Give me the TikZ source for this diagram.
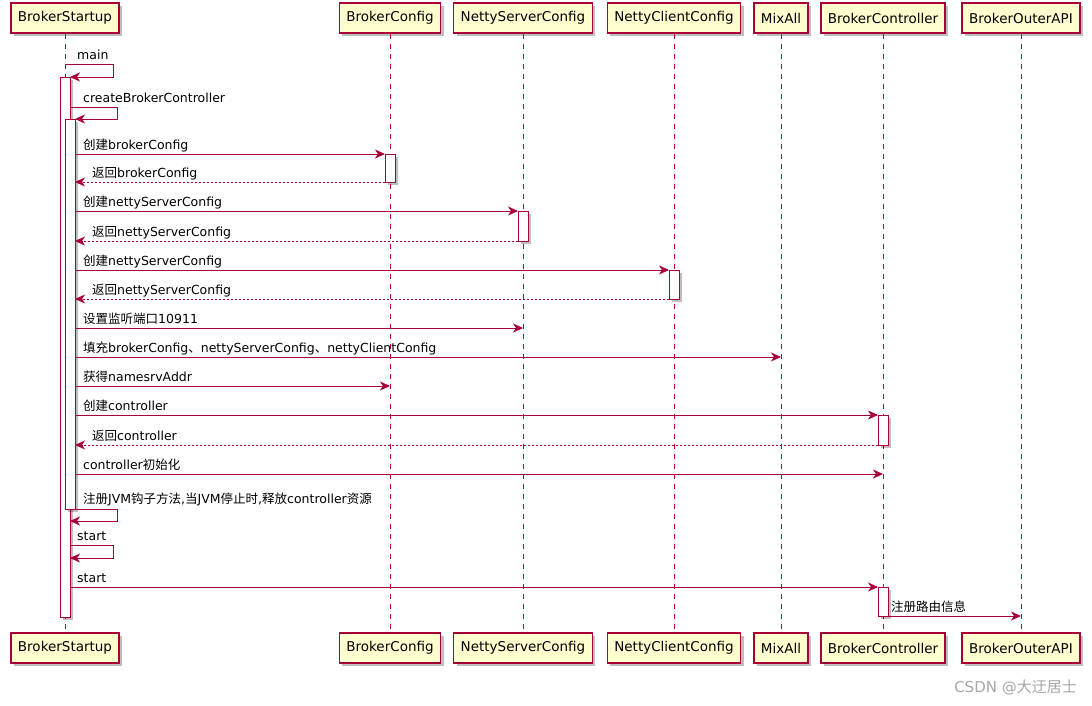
\documentclass[tikz,border=0pt]{standalone}
\usepackage{fontspec}
\setmainfont{DejaVu Sans}
\newfontfamily\cjk{Noto Sans CJK SC}
\usetikzlibrary{arrows.meta}
\usetikzlibrary{shadows}
\definecolor{umlred}{HTML}{A80036}
\definecolor{umlfill}{HTML}{FEFECE}
\tikzset{>={Stealth[length=10pt,width=9pt,inset=3pt]}}
\tikzset{
  umlshadow/.style={drop shadow={shadow xshift=3pt,shadow yshift=-3pt,fill=black,opacity=0.25}},
  part/.style={draw=umlred,line width=1.4pt,fill=umlfill,minimum height=30pt,
               inner xsep=7pt,inner ysep=0pt,font=\fontsize{13.5}{16}\selectfont,umlshadow},
  actbar/.style={draw=umlred,line width=1pt,fill=white,minimum width=10pt,
                 inner sep=0pt,outer sep=0pt,anchor=north,umlshadow},
  lifeline/.style={umlred,line width=1pt,dash pattern=on 5pt off 5pt},
  msg/.style={->,umlred,line width=1pt},
  ret/.style={msg,dash pattern=on 2pt off 2pt},
  lbl/.style={anchor=base west,inner sep=0pt,text=black}
}
\newcommand\zh[1]{{\cjk #1}}

\begin{document}
\begin{tikzpicture}[x=1pt,y=-1pt,font=\fontsize{12.5}{15}\selectfont]
  \useasboundingbox (0,0) rectangle (1092,705);

  % PARTICIPANTS
  \foreach \x/\nm/\txt in {65/bs/BrokerStartup, 390/bc/BrokerConfig,
      523/nsc/NettyServerConfig, 674/ncc/NettyClientConfig, 781/ma/MixAll,
      883/bctl/BrokerController, 1021/boa/BrokerOuterAPI}{
    \node[part] (\nm) at (\x,18) {\txt};
    \node[part] (\nm-bot) at (\x,648) {\txt};
    \draw[lifeline] (\nm) -- (\nm-bot);
  }

  % ACTIVATIONS
  \node[actbar,minimum height=540pt] (a1) at (bs |- 0,77) {};
  \node[actbar,minimum height=390pt] (a2) at (a1.east |- 0,119) {};
  \node[actbar,minimum height=28pt] (c1) at (bc |- 0,154) {};
  \node[actbar,minimum height=30pt] (c2) at (nsc |- 0,211) {};
  \node[actbar,minimum height=29pt] (c3) at (ncc |- 0,270) {};
  \node[actbar,minimum height=30pt] (c4) at (bctl |- 0,415) {};
  \node[actbar,minimum height=29pt] (c5) at (bctl |- 0,587) {};

  % MESSAGES
  \draw[msg] (bs |- 0,64) -- ++(48,0) -- ++(0,13) -- (a1.north east);
  \node[lbl] (m1) at (77,59.5) {main};
  \draw[msg] (a1.east |- 0,107) -- ++(47,0) -- ++(0,12) -- (a2.north east);
  \node[lbl] (m2) at (83,102) {createBrokerController};

  \draw[msg] (a2.east |- c1.north) -- (c1.north west);
  \node[lbl] (m3) at (83,149.5) {\zh{创建}brokerConfig};
  \draw[ret] (c1.south west) -- (a2.east |- c1.south);
  \node[lbl] (m4) at (92,177.5) {\zh{返回}brokerConfig};

  \draw[msg] (a2.east |- c2.north) -- (c2.north west);
  \node[lbl] (m5) at (83,206.5) {\zh{创建}nettyServerConfig};
  \draw[ret] (c2.south west) -- (a2.east |- c2.south);
  \node[lbl] (m6) at (92,236.5) {\zh{返回}nettyServerConfig};

  \draw[msg] (a2.east |- c3.north) -- (c3.north west);
  \node[lbl] (m7) at (83,265.5) {\zh{创建}nettyServerConfig};
  \draw[ret] (c3.south west) -- (a2.east |- c3.south);
  \node[lbl] (m8) at (92,294.5) {\zh{返回}nettyServerConfig};

  \draw[msg] (a2.east |- 0,328) -- (nsc |- 0,328);
  \node[lbl] (m9) at (83,323.5) {\zh{设置监听端口}10911};
  \draw[msg] (a2.east |- 0,357) -- (ma |- 0,357);
  \node[lbl] (m10) at (83,352.5) {\zh{填充}brokerConfig\zh{、}nettyServerConfig\zh{、}nettyClientConfig};
  \draw[msg] (a2.east |- 0,386) -- (bc |- 0,386);
  \node[lbl] (m11) at (83,381.5) {\zh{获得}namesrvAddr};

  \draw[msg] (a2.east |- c4.north) -- (c4.north west);
  \node[lbl] (m12) at (83,410.5) {\zh{创建}controller};
  \draw[ret] (c4.south west) -- (a2.east |- c4.south);
  \node[lbl] (m13) at (92,440.5) {\zh{返回}controller};
  \draw[msg] (a2.east |- 0,474) -- (bctl |- 0,474);
  \node[lbl] (m14) at (83,469.5) {controller\zh{初始化}};

  \draw[msg] (a2.south east) -- ++(42,0) -- ++(0,12) -- (a1.east |- 0,521);
  \node[lbl] (m15) at (83,503.5) {\zh{注册}JVM\zh{钩子方法},\zh{当}JVM\zh{停止时},\zh{释放}controller\zh{资源}};
  \draw[msg] (a1.east |- 0,545) -- ++(43,0) -- ++(0,13) -- (a1.east |- 0,558);
  \node[lbl] (m16) at (77,540.5) {start};
  \draw[msg] (a1.east |- c5.north) -- (c5.north west);
  \node[lbl] (m17) at (77,582.5) {start};
  \draw[msg] (c5.south east) -- (boa |- c5.south);
  \node[lbl] (m18) at (891,611.5) {\zh{注册路由信息}};

  % WATERMARK
  \node[anchor=east,inner sep=0pt,text=black!35,font=\fontsize{15}{18}\selectfont] (wm) at (1077,687) {CSDN @\zh{大迂居士}};
\end{tikzpicture}
\end{document}
